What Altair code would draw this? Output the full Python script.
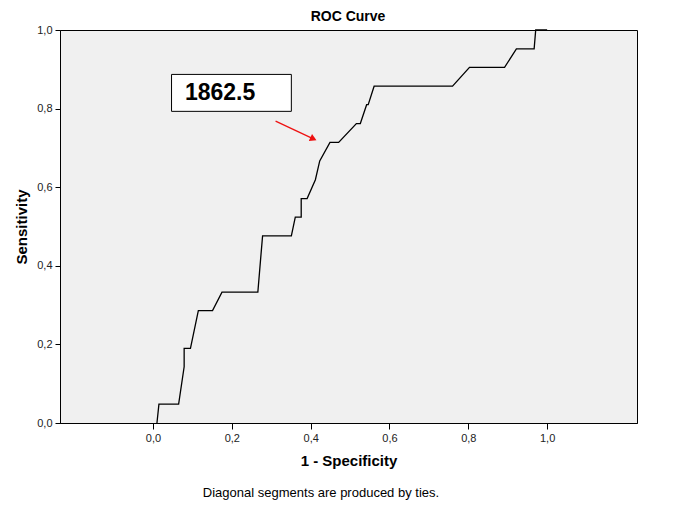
import altair as alt
import pandas as pd

FONT = "Liberation Sans"

# ROC curve points (1 - specificity, sensitivity)
fpr = [0.010, 0.015, 0.065, 0.079, 0.079, 0.095, 0.115, 0.151, 0.175, 0.266,
       0.274, 0.278, 0.351, 0.361, 0.376, 0.376, 0.391, 0.412, 0.423, 0.449,
       0.471, 0.516, 0.526, 0.542, 0.546, 0.561, 0.760, 0.803, 0.892, 0.922,
       0.967, 0.971, 1.000]
tpr = [0.000, 0.048, 0.048, 0.143, 0.190, 0.190, 0.286, 0.286, 0.333, 0.333,
       0.429, 0.476, 0.476, 0.524, 0.524, 0.571, 0.571, 0.619, 0.667, 0.714,
       0.714, 0.762, 0.762, 0.810, 0.810, 0.857, 0.857, 0.905, 0.905, 0.952,
       0.952, 1.000, 1.000]

x_ticks = [0.0, 0.2, 0.4, 0.6, 0.8, 1.0]
y_ticks = [0.0, 0.2, 0.4, 0.6, 0.8, 1.0]
x_domain = [-0.236, 1.228]
y_domain = [0.0, 1.0]

title_text = ["ROC Curve"]
label_text = ["1862.5"]
box_x = [0.047, 0.351]
box_y = [0.793, 0.887]
label_pos = [0.081, 0.840]
arrow_from = [0.311, 0.768]
arrow_head = [0.407, 0.723]
footnote = ["Diagonal segments are produced by ties."]

curve_df = pd.DataFrame({"fpr": fpr, "tpr": tpr, "order": list(range(len(fpr)))})
box_df = pd.DataFrame({"x": [box_x[0]], "x2": [box_x[1]], "y": [box_y[0]], "y2": [box_y[1]]})
label_df = pd.DataFrame({"x": [label_pos[0]], "y": [label_pos[1]], "t": label_text})
arrow_df = pd.DataFrame({"x": [arrow_from[0]], "y": [arrow_from[1]],
                         "x2": [arrow_head[0]], "y2": [arrow_head[1]]})
head_df = pd.DataFrame({"x": [arrow_head[0]], "y": [arrow_head[1]]})
foot_df = pd.DataFrame({"t": footnote})
title_df = pd.DataFrame({"t": title_text})

label_expr = "replace(format(datum.value, '.1f'), '.', ',')"

xscale = alt.Scale(domain=x_domain, nice=False, zero=False)
yscale = alt.Scale(domain=y_domain, nice=False, zero=False)

xaxis = alt.Axis(values=x_ticks, labelExpr=label_expr, title="1 - Specificity", grid=False,
                 domainColor="black", tickColor="black", tickSize=6, labelFontSize=11,
                 labelColor="#222222", titleFontSize=15, titleFontWeight="bold",
                 titleColor="black", titlePadding=10, labelPadding=3,
                 labelFont=FONT, titleFont=FONT)
yaxis = alt.Axis(values=y_ticks, labelExpr=label_expr, title="Sensitivity", grid=False,
                 domainColor="black", tickColor="black", tickSize=5, labelFontSize=11,
                 labelColor="#222222", titleFontSize=15, titleFontWeight="bold",
                 titleColor="black", titlePadding=7, labelPadding=3,
                 labelFont=FONT, titleFont=FONT)

curve = alt.Chart(curve_df).mark_line(color="black", strokeWidth=1.3).encode(
    x=alt.X("fpr:Q", scale=xscale, axis=xaxis),
    y=alt.Y("tpr:Q", scale=yscale, axis=yaxis),
    order="order:Q",
)

box = alt.Chart(box_df).mark_rect(fill="white", stroke="black", strokeWidth=1).encode(
    x=alt.X("x:Q", scale=xscale), x2="x2:Q",
    y=alt.Y("y:Q", scale=yscale), y2="y2:Q",
)

label = alt.Chart(label_df).mark_text(align="left", baseline="middle", fontSize=23,
                                      fontWeight="bold", font=FONT, color="black").encode(
    x=alt.X("x:Q", scale=xscale), y=alt.Y("y:Q", scale=yscale), text="t:N"
)

shaft = alt.Chart(arrow_df).mark_rule(color="#ee1111", strokeWidth=1.3).encode(
    x=alt.X("x:Q", scale=xscale), y=alt.Y("y:Q", scale=yscale), x2="x2:Q", y2="y2:Q"
)

head = alt.Chart(head_df).mark_point(shape="triangle-up", filled=True, color="#ee1111",
                                     opacity=1, size=60, angle=115.5).encode(
    x=alt.X("x:Q", scale=xscale), y=alt.Y("y:Q", scale=yscale)
)

title = alt.Chart(title_df).mark_text(align="center", baseline="middle", fontSize=14,
                                      fontWeight="bold", font=FONT, color="black").encode(
    x=alt.value(288), y=alt.value(-13), text="t:N"
)

foot = alt.Chart(foot_df).mark_text(align="center", baseline="middle", fontSize=13,
                                    font=FONT, color="black").encode(
    x=alt.value(261), y=alt.value(463), text="t:N"
)

chart = alt.layer(curve, box, label, shaft, head, title, foot).properties(
    width=577, height=393,
    background="white",
    autosize=alt.AutoSizeParams(type="none"),
    padding={"left": 52, "top": 22, "right": 20, "bottom": 80},
).configure_view(
    stroke="black", strokeWidth=1, fill="#f0f0f0"
)

chart.save("out.html", embed_options={"renderer": "svg", "actions": False})
